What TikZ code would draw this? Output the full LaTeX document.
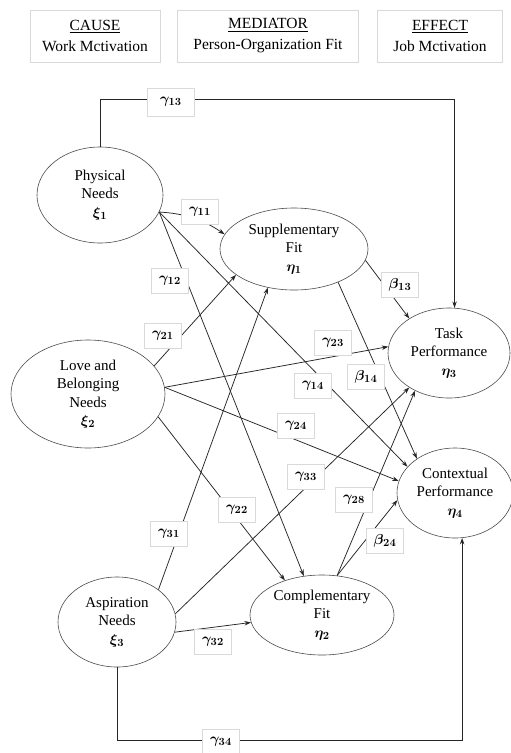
\documentclass[tikz,border=0pt]{standalone}
\usepackage{amsmath}
\usepackage{fontspec}
\setmainfont{Liberation Serif}
\usetikzlibrary{arrows.meta,shapes.geometric}

\begin{document}
\begin{tikzpicture}[x=1pt,y=-1pt,
  latent/.style={ellipse,draw=black!70,line width=0.6pt,inner sep=0pt,align=center,
    font=\fontsize{15}{18.5}\selectfont},
  coef/.style={draw=black!15,fill=white,minimum width=37pt,minimum height=25pt,
    inner sep=1pt,font=\fontsize{15.5}{17}\selectfont},
  link/.style={draw=black!85,line width=0.75pt,-{Stealth[length=6.5pt,width=4.5pt]}},
  header/.style={draw=black!15,fill=white,align=center,minimum height=52pt,
    font=\fontsize{15.5}{21}\selectfont}]

\useasboundingbox (0,0) rectangle (511,753);
\fill[white] (0,0) rectangle (511,753);

% column headings
\node[header,minimum width=130pt] (cause) at (95,36) {\underline{CAUSE}\\Work Mctivation};
\node[header,minimum width=181pt] (mediator) at (268,36) {\underline{MEDIATOR}\\Person-Organization Fit};
\node[header,minimum width=125pt] (effect) at (440,36) {\underline{EFFECT}\\Job Mctivation};

% latent variables
\node[latent,minimum width=126pt,minimum height=96pt] (phys) at (100,195) {Physical\\Needs\\$\boldsymbol{\xi_1}$};
\node[latent,minimum width=154pt,minimum height=108pt] (love) at (88,394) {Love and\\Belonging\\Needs\\$\boldsymbol{\xi_2}$};
\node[latent,minimum width=118pt,minimum height=90pt] (asp) at (117,622) {Aspiration\\Needs\\$\boldsymbol{\xi_3}$};
\node[latent,minimum width=148pt,minimum height=82pt] (supp) at (294,249) {Supplementary\\Fit\\$\boldsymbol{\eta_1}$};
\node[latent,minimum width=144pt,minimum height=80pt] (comp) at (322,615) {Complementary\\Fit\\$\boldsymbol{\eta_2}$};
\node[latent,minimum width=122pt,minimum height=90pt] (task) at (449,353) {Task\\Performance\\$\boldsymbol{\eta_3}$};
\node[latent,minimum width=116pt,minimum height=90pt] (ctx) at (455,493) {Contextual\\Performance\\$\boldsymbol{\eta_4}$};

% paths from Physical Needs
\draw[link] (phys.north) -- ++(0,-47) -| (task.83);
\draw[link] (phys.-16) to[bend left=15] (supp.168);
\draw[link] (phys.-16) -- (comp.115);
\draw[link] (phys.-16) -- (ctx.151);

% paths from Love and Belonging Needs
\draw[link] (love.23) -- (supp.204);
\draw[link] (love.5) -- (task.174);
\draw[link] (love.5) -- (ctx.168);
\draw[link] (love.-18) -- (comp.137);

% paths from Aspiration Needs
\draw[link] (asp.38) -- (supp.236);
\draw[link] (asp.8) -- (task.221);
\draw[link] (asp.-10) -- (comp.186);
\draw[link] (asp.south) -- ++(0,73) -| (ctx.-81);

% paths from the mediators
\draw[link] (supp.-9) -- (task.139);
\draw[link] (supp.-37) -- (ctx.138);
\draw[link] (comp.69) -- (task.228);
\draw[link] (comp.69) -- (ctx.187);

% path coefficients
\node[coef,minimum width=47pt,minimum height=28pt] (g13) at (171,102) {$\boldsymbol{\gamma_{13}}$};
\node[coef] (g11) at (200,212) {$\boldsymbol{\gamma_{11}}$};
\node[coef] (g12) at (170,281) {$\boldsymbol{\gamma_{12}}$};
\node[coef] (g21) at (163,336) {$\boldsymbol{\gamma_{21}}$};
\node[coef] (g23) at (333,343) {$\boldsymbol{\gamma_{23}}$};
\node[coef] (b13) at (400,285) {$\boldsymbol{\beta_{13}}$};
\node[coef] (g14) at (313,386) {$\boldsymbol{\gamma_{14}}$};
\node[coef] (b14) at (366,377) {$\boldsymbol{\beta_{14}}$};
\node[coef] (g24) at (296,426) {$\boldsymbol{\gamma_{24}}$};
\node[coef] (g33) at (306,477) {$\boldsymbol{\gamma_{33}}$};
\node[coef] (g28) at (354,500) {$\boldsymbol{\gamma_{28}}$};
\node[coef] (g22) at (237,510) {$\boldsymbol{\gamma_{22}}$};
\node[coef] (g31) at (169,534) {$\boldsymbol{\gamma_{31}}$};
\node[coef] (b24) at (385,541) {$\boldsymbol{\beta_{24}}$};
\node[coef] (g32) at (213,642) {$\boldsymbol{\gamma_{32}}$};
\node[coef] (g34) at (221,742) {$\boldsymbol{\gamma_{34}}$};
\end{tikzpicture}
\end{document}
